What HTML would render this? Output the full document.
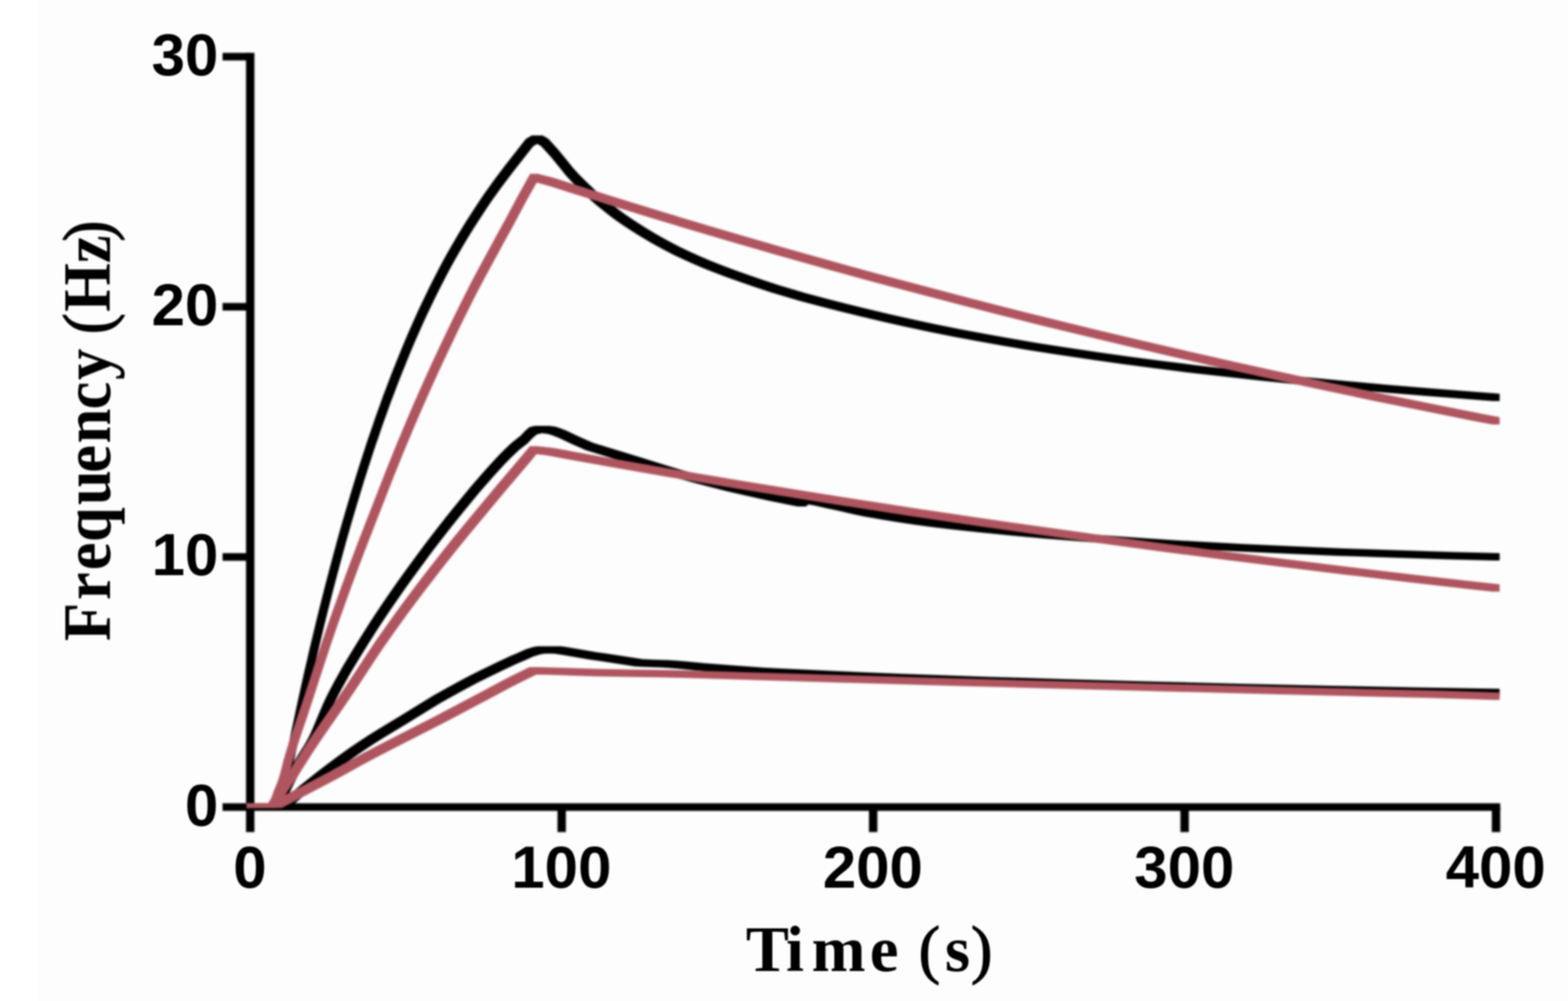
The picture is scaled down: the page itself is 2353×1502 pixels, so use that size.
<!DOCTYPE html>
<html lang="en">
<head>
<meta charset="utf-8">
<title>Frequency (Hz) vs Time (s)</title>
<style>
html,body{margin:0;padding:0;background:#fdfdfd;}
body{width:2353px;height:1502px;overflow:hidden;position:relative;}
svg{position:absolute;left:0;top:0;display:block;}
.tick{font-family:"Liberation Sans",Arial,Helvetica,sans-serif;font-weight:700;font-size:88.8px;fill:#000;}
.lab{font-family:"Liberation Serif","Times New Roman",Times,serif;font-weight:700;fill:#000;}
.par{font-weight:400;stroke:#000;stroke-width:1.6px;stroke-linejoin:round;}
.ax{fill:#000;}
.cb{fill:#000;stroke:none;}
.cr{fill:#af555f;stroke:none;}
</style>
</head>
<body>
<svg xmlns="http://www.w3.org/2000/svg" width="2353" height="1502" viewBox="0 0 2353 1502">
<defs>
<filter id="soft" x="0" y="0" width="2353" height="1502" filterUnits="userSpaceOnUse" color-interpolation-filters="sRGB"><feGaussianBlur stdDeviation="1.7"/></filter>
<filter id="softt" x="0" y="0" width="2353" height="1502" filterUnits="userSpaceOnUse" color-interpolation-filters="sRGB"><feGaussianBlur stdDeviation="1.1"/></filter>
<clipPath id="plot"><rect x="0" y="0" width="2353" height="1212.3"/></clipPath>
</defs>
<rect x="0" y="0" width="2353" height="1502" fill="#fdfdfd"/>
<rect x="0" y="0" width="55.5" height="1502" fill="#ffffff"/>
<g filter="url(#soft)">
<g class="ax">
<rect x="369.2" y="79.3" width="12.6" height="1169.2"/>
<rect x="334" y="1205.3" width="1917.3" height="11.4"/>
<rect x="334" y="830" width="41.5" height="11.4"/>
<rect x="334" y="454.6" width="41.5" height="11.4"/>
<rect x="334" y="79.3" width="41.5" height="11.4"/>
<rect x="836.6" y="1211" width="12.6" height="37.5"/>
<rect x="1304" y="1211" width="12.6" height="37.5"/>
<rect x="1771.4" y="1211" width="12.6" height="37.5"/>
<rect x="2238.7" y="1211" width="12.6" height="37.5"/>
</g>
<g clip-path="url(#plot)">
<path class="cb" d="M369.9,1205.5 L415.4,1205.5 L415.9,1203.5 L423.9,1162.6 L426.9,1147.6 L432.1,1121.9 L437.1,1097.8 L441.9,1075.3 L446.4,1054.3 L450.6,1034.9 L455.1,1014.8 L459.9,993.9 L464.6,973.4 L469.4,953.4 L474.1,933.7 L478.9,914.3 L483.9,894.4 L488.9,874.8 L493.9,855.7 L498.9,836.9 L503.9,818.5 L509.1,799.6 L514.4,781.1 L519.6,763.0 L524.9,745.2 L530.1,727.9 L535.6,710.1 L541.1,692.7 L546.6,675.7 L552.1,659.1 L557.9,642.2 L563.6,625.6 L569.4,609.4 L575.1,593.6 L580.9,578.2 L586.9,562.6 L592.9,547.3 L598.9,532.4 L604.9,517.8 L611.1,503.1 L617.4,488.7 L623.6,474.7 L629.9,461.1 L636.4,447.4 L642.9,434.0 L649.4,421.0 L656.1,407.9 L663.1,394.6 L670.1,381.8 L677.1,369.4 L684.1,357.4 L691.6,344.9 L699.9,331.6 L708.6,317.9 L717.1,304.9 L725.1,293.1 L733.1,281.7 L741.9,269.6 L752.1,255.9 L758.9,247.1 L789.1,208.5 L797.4,203.4 L798.6,203.3 L814.4,203.3 L815.6,204.0 L822.9,208.3 L837.9,224.7 L853.4,243.7 L859.6,251.4 L863.4,255.7 L869.1,261.9 L876.6,269.4 L890.9,283.2 L897.6,289.4 L906.6,297.2 L916.9,305.6 L926.6,313.2 L936.1,320.2 L945.9,327.0 L958.1,335.1 L970.4,342.8 L982.9,350.3 L995.6,357.6 L1008.6,364.6 L1021.6,371.2 L1035.4,377.7 L1050.4,384.5 L1064.9,390.7 L1081.2,397.2 L1102.4,405.2 L1124.4,413.1 L1145.4,420.3 L1167.4,427.4 L1189.2,434.1 L1209.4,439.9 L1236.7,447.3 L1266.7,455.0 L1301.4,463.6 L1337.2,471.9 L1371.9,479.7 L1405.9,486.9 L1443.4,494.4 L1479.9,501.3 L1516.2,507.8 L1555.4,514.4 L1595.7,520.7 L1645.9,528.2 L1695.4,535.2 L1743.2,541.5 L1794.2,547.9 L1847.7,554.1 L1903.9,560.3 L1962.7,566.3 L2025.4,572.3 L2086.2,577.8 L2150.2,583.1 L2217.7,588.3 L2250.4,590.7 L2250.4,601.7 L2239.9,601.7 L2206.7,599.3 L2139.2,594.1 L2075.2,588.8 L2014.4,583.3 L1951.7,577.3 L1892.9,571.3 L1836.7,565.1 L1783.2,558.9 L1732.2,552.5 L1684.4,546.2 L1634.9,539.2 L1584.7,531.7 L1544.4,525.4 L1505.2,518.8 L1468.9,512.3 L1432.4,505.4 L1394.9,497.9 L1360.9,490.7 L1326.2,482.9 L1290.4,474.6 L1255.7,466.0 L1225.7,458.3 L1198.4,450.9 L1178.2,445.1 L1156.4,438.4 L1134.4,431.3 L1113.4,424.1 L1091.4,416.2 L1070.2,408.2 L1053.9,401.7 L1039.4,395.5 L1024.4,388.7 L1010.6,382.2 L997.6,375.6 L984.6,368.6 L971.9,361.3 L959.4,353.8 L947.1,346.1 L934.9,338.0 L925.1,331.2 L915.6,324.2 L905.9,316.6 L895.6,308.2 L886.6,300.4 L879.9,294.2 L865.6,280.4 L858.1,272.9 L852.4,266.7 L848.6,262.4 L842.4,254.7 L826.9,235.7 L811.9,219.3 L806.4,216.0 L805.9,215.9 L800.1,219.5 L769.9,258.1 L763.1,266.9 L752.9,280.6 L744.1,292.7 L736.1,304.1 L728.1,315.9 L719.6,328.9 L710.9,342.6 L702.6,355.9 L695.1,368.4 L688.1,380.4 L681.1,392.8 L674.1,405.6 L667.1,418.9 L660.4,432.0 L653.9,445.0 L647.4,458.4 L640.9,472.1 L634.6,485.7 L628.4,499.7 L622.1,514.1 L615.9,528.8 L609.9,543.4 L603.9,558.3 L597.9,573.6 L591.9,589.2 L586.1,604.6 L580.4,620.4 L574.6,636.6 L568.9,653.2 L563.1,670.1 L557.6,686.7 L552.1,703.7 L546.6,721.1 L541.1,738.9 L535.9,756.2 L530.6,774.0 L525.4,792.1 L520.1,810.6 L514.9,829.5 L509.9,847.9 L504.9,866.7 L499.9,885.8 L494.9,905.4 L489.9,925.3 L485.1,944.7 L480.4,964.4 L475.6,984.4 L470.9,1004.9 L466.1,1025.8 L461.6,1045.9 L457.4,1065.3 L452.9,1086.3 L448.1,1108.8 L443.1,1132.9 L437.9,1158.6 L434.9,1173.6 L426.9,1214.5 L426.4,1216.5 L369.9,1216.5Z"/>
<path class="cb" d="M369.9,1205.5 L410.4,1205.5 L410.9,1204.7 L417.4,1191.3 L429.1,1166.9 L434.6,1155.8 L439.1,1147.1 L443.1,1139.7 L445.9,1135.0 L449.9,1128.6 L455.6,1119.6 L458.6,1114.6 L461.1,1110.1 L463.4,1105.7 L465.9,1100.5 L468.9,1093.8 L472.6,1085.0 L481.6,1063.5 L485.1,1055.4 L487.9,1049.4 L490.4,1044.3 L495.9,1033.6 L501.6,1022.8 L507.9,1011.5 L514.6,999.6 L522.1,986.9 L530.6,972.9 L541.6,955.2 L553.6,936.3 L563.4,921.3 L573.6,905.9 L584.6,889.9 L596.6,872.7 L610.1,853.9 L624.4,834.4 L638.1,816.0 L651.9,798.0 L665.6,780.4 L679.4,763.2 L693.1,746.4 L707.1,729.6 L719.9,714.8 L731.6,701.5 L742.6,689.4 L748.4,683.3 L757.6,673.9 L767.9,664.3 L780.4,654.5 L788.6,646.0 L794.4,641.1 L795.9,640.6 L802.6,638.9 L824.6,638.9 L833.6,640.3 L839.9,642.2 L850.1,646.3 L869.1,655.2 L890.1,664.6 L940.1,679.8 L966.1,687.8 L998.9,698.1 L1022.9,705.2 L1048.9,712.4 L1076.7,719.7 L1102.4,726.2 L1128.7,732.3 L1160.9,739.4 L1192.7,746.0 L1200.2,747.4 L1201.9,745.9 L1202.7,745.4 L1203.4,745.2 L1217.2,745.2 L1222.4,745.7 L1228.4,746.5 L1236.2,748.1 L1253.4,752.1 L1267.7,755.1 L1295.7,761.5 L1307.7,763.9 L1333.7,768.5 L1359.9,772.8 L1386.4,776.7 L1413.2,780.3 L1442.9,783.8 L1480.4,787.8 L1530.2,792.7 L1577.4,796.9 L1640.2,802.0 L1698.4,806.3 L1746.4,809.6 L1801.4,812.8 L1864.9,816.2 L1942.2,819.8 L2017.2,822.9 L2085.9,825.3 L2179.2,828.2 L2250.4,830.1 L2250.4,841.1 L2240.7,841.1 L2168.2,839.2 L2074.9,836.3 L2006.2,833.9 L1931.2,830.8 L1853.9,827.2 L1790.4,823.8 L1735.4,820.6 L1687.4,817.3 L1629.2,813.0 L1566.4,807.9 L1519.2,803.7 L1469.4,798.8 L1431.9,794.8 L1402.2,791.3 L1375.4,787.7 L1348.9,783.8 L1322.7,779.5 L1296.7,774.9 L1284.7,772.5 L1256.7,766.1 L1242.2,763.1 L1226.7,759.5 L1218.4,757.7 L1212.9,756.9 L1210.7,758.9 L1209.7,759.7 L1208.9,760.0 L1197.2,760.1 L1195.7,759.8 L1181.7,757.0 L1149.9,750.4 L1117.7,743.3 L1091.4,737.2 L1065.7,730.7 L1037.9,723.4 L1011.9,716.2 L987.9,709.1 L955.1,698.8 L929.1,690.8 L879.1,675.6 L858.1,666.2 L839.1,657.3 L828.9,653.2 L822.6,651.3 L813.4,649.9 L806.9,651.6 L805.4,652.1 L799.6,657.0 L791.4,665.5 L778.9,675.3 L768.6,684.9 L759.4,694.3 L753.6,700.4 L742.6,712.5 L730.9,725.8 L718.1,740.6 L704.1,757.4 L690.4,774.2 L676.6,791.4 L662.9,809.0 L649.1,827.0 L635.4,845.4 L621.1,864.9 L607.6,883.7 L595.6,900.9 L584.6,916.9 L574.4,932.3 L564.6,947.3 L552.6,966.2 L541.6,983.9 L533.1,997.9 L525.6,1010.6 L518.9,1022.5 L512.6,1033.8 L506.9,1044.6 L501.4,1055.3 L498.9,1060.4 L496.1,1066.4 L492.6,1074.5 L483.6,1096.0 L479.9,1104.8 L476.9,1111.5 L474.4,1116.7 L472.1,1121.1 L469.6,1125.6 L466.6,1130.6 L460.9,1139.6 L456.9,1146.0 L454.1,1150.7 L450.1,1158.1 L445.6,1166.8 L440.1,1177.9 L428.4,1202.3 L421.9,1215.7 L421.4,1216.5 L369.9,1216.5Z"/>
<path class="cb" d="M369.9,1205.5 L418.4,1205.5 L418.9,1205.2 L450.4,1178.6 L462.4,1168.9 L478.4,1156.3 L492.9,1145.3 L509.1,1133.3 L525.6,1121.6 L540.1,1111.7 L553.4,1103.0 L565.9,1095.2 L600.6,1074.3 L637.9,1051.2 L650.6,1043.6 L668.9,1033.2 L687.6,1022.9 L706.4,1013.1 L723.6,1004.4 L746.4,993.4 L766.1,984.2 L777.4,979.5 L789.6,974.0 L800.6,970.7 L806.6,969.8 L841.9,969.8 L852.4,971.2 L896.1,978.7 L909.1,980.5 L964.1,989.0 L979.4,989.7 L1002.9,990.4 L1015.1,991.2 L1032.7,992.7 L1055.4,994.9 L1104.4,998.7 L1145.9,1001.7 L1170.4,1003.1 L1282.9,1008.2 L1351.4,1010.9 L1479.9,1015.4 L1595.4,1019.0 L1722.4,1022.5 L1861.7,1026.0 L1996.9,1028.9 L2126.9,1031.4 L2250.4,1033.5 L2250.4,1044.5 L2241.9,1044.5 L2115.9,1042.4 L1985.9,1039.9 L1850.7,1037.0 L1711.4,1033.5 L1584.4,1030.0 L1468.9,1026.4 L1340.4,1021.9 L1271.9,1019.2 L1159.4,1014.1 L1134.9,1012.7 L1093.4,1009.7 L1044.4,1005.9 L1021.6,1003.7 L1004.1,1002.2 L991.9,1001.4 L968.4,1000.7 L953.1,1000.0 L898.1,991.5 L885.1,989.7 L841.4,982.2 L830.9,980.8 L817.6,980.8 L811.6,981.7 L800.6,985.0 L788.4,990.5 L777.1,995.2 L757.4,1004.4 L734.6,1015.4 L717.4,1024.1 L698.6,1033.9 L679.9,1044.2 L661.6,1054.6 L648.9,1062.2 L611.6,1085.3 L576.9,1106.2 L564.4,1114.0 L551.1,1122.7 L536.6,1132.6 L520.1,1144.3 L503.9,1156.3 L489.4,1167.3 L473.4,1179.9 L461.4,1189.6 L429.9,1216.2 L429.4,1216.5 L369.9,1216.5Z"/>
<path class="cr" d="M369.9,1205.5 L404.4,1205.5 L404.9,1204.3 L408.4,1193.7 L409.9,1189.5 L411.4,1185.6 L415.1,1176.6 L416.6,1172.7 L417.6,1169.9 L418.6,1166.7 L419.9,1162.3 L421.4,1156.7 L425.1,1142.1 L426.4,1137.5 L427.9,1132.3 L430.9,1122.4 L434.1,1112.1 L438.1,1099.7 L443.4,1084.0 L453.1,1055.2 L457.9,1040.8 L469.6,1004.6 L478.4,977.7 L484.4,959.5 L489.4,944.8 L496.1,925.3 L503.4,904.9 L511.1,883.4 L519.9,859.6 L528.4,836.8 L535.9,817.1 L545.6,791.9 L566.9,737.6 L577.6,709.9 L583.4,695.5 L594.1,669.1 L603.4,646.7 L611.9,626.5 L619.6,608.5 L627.1,591.5 L637.4,568.6 L647.6,546.1 L657.9,524.0 L667.9,502.9 L677.9,482.1 L687.9,461.7 L697.6,442.2 L705.6,426.6 L714.6,409.5 L725.4,389.4 L742.6,357.8 L759.9,326.2 L770.1,307.1 L779.1,290.3 L784.1,281.2 L795.6,260.8 L806.9,260.8 L827.6,265.9 L836.4,268.4 L864.1,277.4 L942.6,302.0 L999.6,319.5 L1063.4,338.7 L1120.7,355.5 L1177.7,371.9 L1258.9,394.8 L1314.2,410.0 L1376.4,426.6 L1453.9,446.9 L1514.4,462.5 L1577.7,478.3 L1645.9,494.9 L1716.7,511.7 L1786.7,528.0 L1857.4,544.0 L1925.7,559.1 L1997.9,574.7 L2077.4,591.4 L2150.2,606.2 L2224.2,621.0 L2250.4,626.1 L2250.4,637.1 L2239.7,637.1 L2207.9,630.9 L2133.7,616.1 L2061.7,601.4 L1981.4,584.5 L1909.7,569.0 L1841.2,553.9 L1770.2,537.7 L1700.7,521.6 L1629.7,504.6 L1563.2,488.4 L1499.7,472.5 L1438.7,456.8 L1360.4,436.3 L1299.2,419.9 L1242.9,404.4 L1163.4,382.0 L1106.4,365.6 L1047.7,348.2 L986.1,329.8 L929.4,312.3 L851.4,287.8 L827.1,279.9 L818.4,277.4 L805.6,274.1 L805.1,274.5 L795.1,292.2 L790.1,301.3 L781.1,318.1 L770.9,337.2 L753.6,368.8 L736.4,400.4 L725.6,420.5 L716.6,437.6 L708.6,453.2 L698.9,472.7 L688.9,493.1 L678.9,513.9 L668.9,535.0 L658.6,557.1 L648.4,579.6 L638.1,602.5 L630.6,619.5 L622.9,637.5 L614.4,657.7 L605.1,680.1 L594.4,706.5 L588.6,720.9 L577.9,748.6 L556.6,802.9 L546.9,828.1 L539.4,847.8 L530.9,870.6 L522.1,894.4 L514.4,915.9 L507.1,936.3 L500.4,955.8 L495.4,970.5 L489.4,988.7 L480.6,1015.6 L468.9,1051.8 L464.1,1066.2 L454.4,1095.0 L449.1,1110.7 L445.1,1123.1 L441.9,1133.4 L438.9,1143.3 L437.4,1148.5 L436.1,1153.1 L432.4,1167.7 L430.9,1173.3 L429.6,1177.7 L428.6,1180.9 L427.6,1183.7 L426.1,1187.6 L422.4,1196.6 L420.9,1200.5 L419.4,1204.7 L415.9,1215.3 L415.4,1216.5 L369.9,1216.5Z"/>
<path class="cr" d="M369.9,1205.5 L401.9,1205.5 L402.4,1204.9 L414.9,1185.0 L419.9,1177.4 L425.9,1168.7 L431.4,1160.8 L435.6,1154.3 L442.6,1143.0 L449.9,1131.4 L458.6,1117.8 L469.6,1101.3 L479.4,1087.0 L505.6,1049.2 L515.9,1034.1 L529.9,1013.0 L552.9,978.1 L564.1,961.3 L573.4,947.9 L585.6,930.7 L599.1,912.1 L613.6,892.5 L629.1,872.0 L646.1,850.0 L660.6,831.5 L676.1,812.1 L694.9,789.1 L726.9,750.5 L745.6,728.1 L785.9,680.5 L794.9,669.7 L795.4,669.6 L806.4,669.6 L827.4,671.8 L835.4,673.0 L846.6,675.1 L860.9,677.8 L930.9,690.3 L1016.9,705.3 L1111.9,721.3 L1210.7,737.3 L1297.9,751.1 L1380.2,763.7 L1471.2,777.2 L1564.4,790.6 L1644.4,801.8 L1741.7,814.9 L1845.7,828.5 L1929.7,839.1 L2026.7,850.9 L2123.4,862.4 L2217.9,873.2 L2250.4,876.8 L2250.4,887.8 L2239.7,887.8 L2206.9,884.2 L2112.4,873.4 L2015.7,861.9 L1918.7,850.1 L1834.7,839.5 L1730.7,825.9 L1633.4,812.8 L1553.4,801.6 L1460.2,788.2 L1369.2,774.7 L1286.9,762.1 L1199.4,748.3 L1100.7,732.2 L1005.6,716.2 L919.6,701.2 L849.6,688.7 L825.9,684.2 L818.1,683.1 L805.1,681.6 L796.9,691.5 L756.6,739.1 L737.9,761.5 L705.9,800.1 L687.1,823.1 L671.6,842.5 L657.1,861.0 L640.1,883.0 L624.6,903.5 L610.1,923.1 L596.6,941.7 L584.4,958.9 L575.1,972.3 L563.9,989.1 L540.9,1024.0 L526.9,1045.1 L516.6,1060.2 L490.4,1098.0 L480.6,1112.3 L469.6,1128.8 L460.9,1142.4 L453.6,1154.0 L446.6,1165.3 L442.4,1171.8 L436.9,1179.7 L430.9,1188.4 L425.9,1196.0 L413.4,1215.9 L412.9,1216.5 L369.9,1216.5Z"/>
<path class="cr" d="M369.9,1205.5 L403.9,1205.5 L409.1,1202.8 L490.1,1160.3 L507.1,1151.0 L533.6,1136.3 L557.1,1123.8 L599.9,1101.7 L651.9,1075.2 L686.1,1057.3 L723.4,1037.5 L753.4,1021.4 L768.9,1013.4 L789.4,1003.4 L794.4,1001.0 L808.6,1001.1 L837.6,1001.7 L899.1,1003.7 L941.9,1004.4 L1009.1,1005.5 L1047.2,1006.6 L1238.2,1012.3 L1455.4,1018.5 L1701.4,1025.0 L1935.7,1031.0 L2156.9,1036.3 L2230.2,1038.5 L2250.4,1039.2 L2250.4,1050.2 L2240.9,1050.2 L2219.2,1049.5 L2145.9,1047.3 L1924.7,1042.0 L1690.4,1036.0 L1444.4,1029.5 L1227.2,1023.3 L1036.2,1017.6 L998.1,1016.5 L931.6,1015.5 L888.4,1014.7 L823.6,1012.6 L804.9,1012.2 L800.4,1014.4 L779.9,1024.4 L764.4,1032.4 L734.4,1048.5 L697.1,1068.3 L662.9,1086.2 L610.9,1112.7 L568.1,1134.8 L544.6,1147.3 L518.1,1162.0 L501.1,1171.3 L420.1,1213.8 L414.9,1216.5 L369.9,1216.5Z"/>
</g>
</g>
<g filter="url(#softt)">
<text class="tick" transform="translate(327.6 1238.6) scale(1.014 1)" x="0" y="0" text-anchor="end">0</text>
<text class="tick" transform="translate(327.6 863.3) scale(1.014 1)" x="0" y="0" text-anchor="end">10</text>
<text class="tick" transform="translate(327.6 487.9) scale(1.014 1)" x="0" y="0" text-anchor="end">20</text>
<text class="tick" transform="translate(327.6 112.6) scale(1.014 1)" x="0" y="0" text-anchor="end">30</text>
<text class="tick" transform="translate(375 1332.3) scale(1.014 1)" x="0" y="0" text-anchor="middle">0</text>
<text class="tick" transform="translate(842.4 1332.3) scale(1.014 1)" x="0" y="0" text-anchor="middle">100</text>
<text class="tick" transform="translate(1309.8 1332.3) scale(1.014 1)" x="0" y="0" text-anchor="middle">200</text>
<text class="tick" transform="translate(1777.2 1332.3) scale(1.014 1)" x="0" y="0" text-anchor="middle">300</text>
<text class="tick" transform="translate(2244.5 1332.3) scale(1.014 1)" x="0" y="0" text-anchor="middle">400</text>
<text class="lab" font-size="97" transform="translate(0 1456.5) scale(1 1.0)" y="0" x="1119.3 1179.6 1218.1 1305.2 1349 1378.4 1418 1457.1">Time <tspan class="par">(</tspan>s<tspan class="par">)</tspan></text>
<text class="lab" font-size="94" transform="translate(165 960.4) rotate(-90) scale(1 1.08)" y="0" x="-1.6 59.9 104.7 147.1 202.4 250.9 295 346 390.2 437 458.9 492.6 565.5 597.9">Frequency <tspan class="par">(</tspan>Hz<tspan class="par">)</tspan></text>
</g>
</svg>
</body>
</html>
